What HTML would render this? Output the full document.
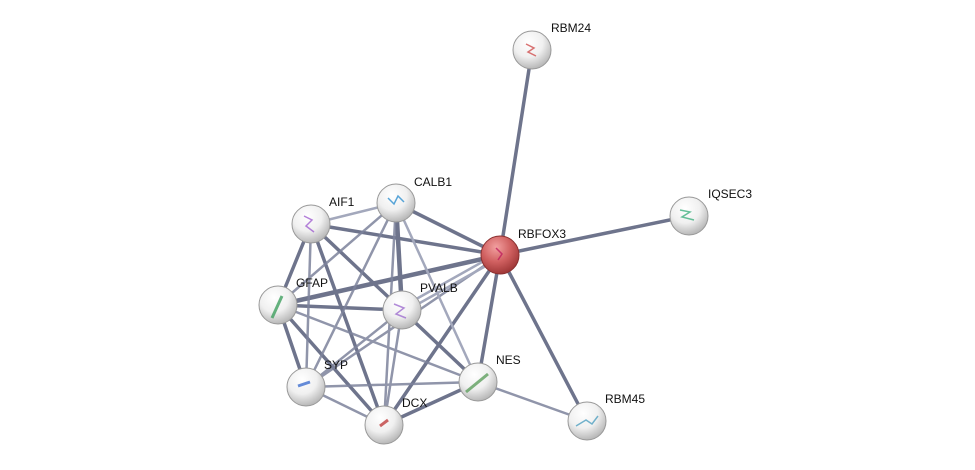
<!DOCTYPE html>
<html><head><style>body{margin:0;background:#fff;}svg{display:block}text{font-family:"Liberation Sans",sans-serif;font-size:12px;fill:#111}</style></head><body>
<svg width="975" height="470" viewBox="0 0 975 470">
<defs>
<radialGradient id="w" cx="40%" cy="30%" r="70%"><stop offset="0" stop-color="#ffffff"/><stop offset="0.55" stop-color="#f0f0f0"/><stop offset="1" stop-color="#b8b8b8"/></radialGradient>
<radialGradient id="r" cx="40%" cy="30%" r="70%"><stop offset="0" stop-color="#f2a0a0"/><stop offset="0.55" stop-color="#d06060"/><stop offset="1" stop-color="#a03838"/></radialGradient>
</defs>
<g stroke-linecap="round">
<g stroke="#5f6580" stroke-width="3.5" opacity="0.9">
<line x1="500" y1="255" x2="532" y2="50"/>
<line x1="500" y1="255" x2="689" y2="216"/>
<line x1="500" y1="255" x2="396" y2="203"/>
<line x1="500" y1="255" x2="311" y2="224"/>
<line x1="500" y1="255" x2="278" y2="305" stroke-width="4.5"/>
<line x1="500" y1="255" x2="478" y2="382"/>
<line x1="500" y1="255" x2="384" y2="425"/>
<line x1="500" y1="255" x2="587" y2="421"/>
<line x1="311" y1="224" x2="278" y2="305"/>
<line x1="311" y1="224" x2="384" y2="425"/>
<line x1="311" y1="224" x2="402" y2="310"/>
<line x1="396" y1="203" x2="402" y2="310" stroke-width="4.5"/>
<line x1="278" y1="305" x2="306" y2="387"/>
<line x1="278" y1="305" x2="384" y2="425"/>
<line x1="402" y1="310" x2="478" y2="382"/>
<line x1="384" y1="425" x2="478" y2="382"/>
<line x1="278" y1="305" x2="402" y2="310"/>
</g>
<g stroke="#7d839c" stroke-width="2.5" opacity="0.85">
<line x1="311" y1="224" x2="306" y2="387"/>
<line x1="396" y1="203" x2="278" y2="305"/>
<line x1="396" y1="203" x2="306" y2="387"/>
<line x1="396" y1="203" x2="384" y2="425"/>
<line x1="402" y1="310" x2="306" y2="387"/>
<line x1="402" y1="310" x2="384" y2="425"/>
<line x1="306" y1="387" x2="478" y2="382"/>
<line x1="306" y1="387" x2="384" y2="425"/>
<line x1="278" y1="305" x2="478" y2="382"/>
<line x1="478" y1="382" x2="587" y2="421"/>
<line x1="306" y1="387" x2="500" y2="255"/>
</g>
<g stroke="#a3a8bc" stroke-width="2.5">
<line x1="311" y1="224" x2="396" y2="203"/>
<line x1="396" y1="203" x2="478" y2="382"/>
<line x1="402" y1="307" x2="500" y2="252"/>
<line x1="402" y1="313" x2="500" y2="258"/>
</g>
</g>
<g stroke="#999" stroke-width="1">
<circle cx="532" cy="50" r="19" fill="url(#w)"/>
<circle cx="689" cy="216" r="19" fill="url(#w)"/>
<circle cx="396" cy="203" r="19" fill="url(#w)"/>
<circle cx="311" cy="224" r="19" fill="url(#w)"/>
<circle cx="278" cy="305" r="19" fill="url(#w)"/>
<circle cx="402" cy="310" r="19" fill="url(#w)"/>
<circle cx="306" cy="387" r="19" fill="url(#w)"/>
<circle cx="478" cy="382" r="19" fill="url(#w)"/>
<circle cx="384" cy="425" r="19" fill="url(#w)"/>
<circle cx="587" cy="421" r="19" fill="url(#w)"/>
<circle cx="500" cy="255" r="19" fill="url(#r)" stroke="#8a3030"/>
</g>
<g fill="none" stroke-width="1.5" opacity="0.8">
<path d="M526 44 l8 4 -6 4 8 4" stroke="#d05050"/>
<path d="M680 210 l10 2 -8 5 12 3" stroke="#40b080"/>
<path d="M388 198 l6 6 4 -8 6 6" stroke="#3090d0"/>
<path d="M304 216 l8 4 -6 6 8 6" stroke="#a060d0"/>
<path d="M272 318 l10 -22" stroke="#40a060" stroke-width="3"/>
<path d="M394 304 l10 4 -8 6 10 4" stroke="#a070d0"/>
<path d="M298 386 l12 -4" stroke="#4070d0" stroke-width="3"/>
<path d="M466 392 l22 -18" stroke="#60a060" stroke-width="3"/>
<path d="M380 426 l8 -6" stroke="#c04040" stroke-width="3"/>
<path d="M576 426 l10 -6 6 4 6 -8" stroke="#50a0c0"/>
<path d="M496 248 l6 6 -4 6" stroke="#c02060"/>
</g>
<text x="551" y="32">RBM24</text>
<text x="708" y="198">IQSEC3</text>
<text x="518" y="238">RBFOX3</text>
<text x="414" y="186">CALB1</text>
<text x="329" y="206">AIF1</text>
<text x="296" y="287">GFAP</text>
<text x="420" y="292">PVALB</text>
<text x="324" y="369">SYP</text>
<text x="496" y="364">NES</text>
<text x="402" y="407">DCX</text>
<text x="605" y="403">RBM45</text>
</svg>
</body></html>
